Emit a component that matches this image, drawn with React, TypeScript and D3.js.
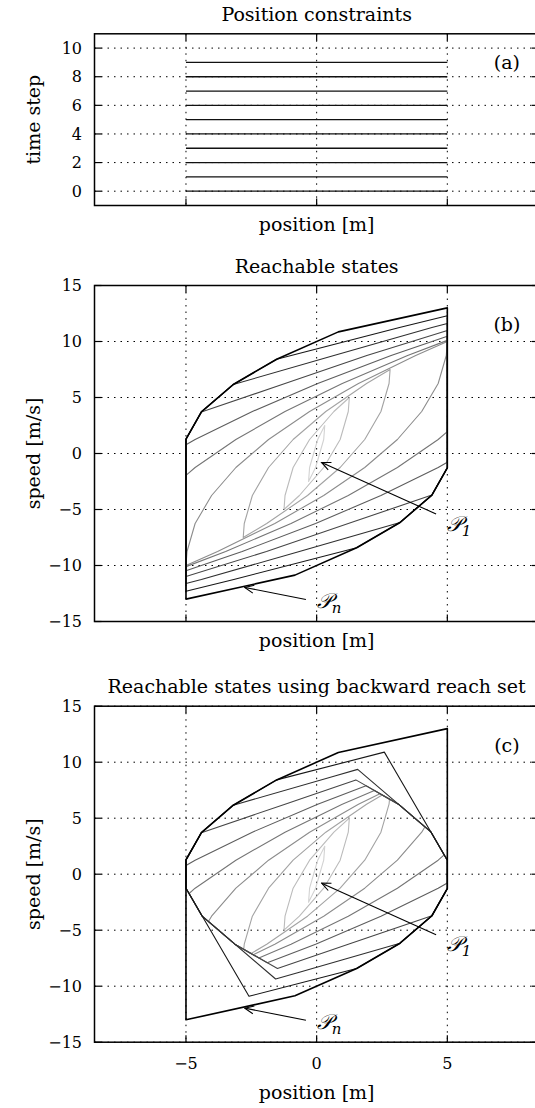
import React from 'react';
import * as d3 from 'd3';

type Pt = [number, number];

// axis ticks
const positionTicks = [-5, 0, 5];
const timeTicks = [0, 2, 4, 6, 8, 10];
const speedTicks = [-15, -10, -5, 0, 5, 10, 15];

// (a) position constraint for every time step
const timeSteps = [0, 1, 2, 3, 4, 5, 6, 7, 8, 9];
const positionBounds: Pt = [-5, 5];

// reachable sets (position, speed), shared by (b) and (c) where nothing is cut off
const reach1: Pt[] = [[0.31, 2.5], [0.27, 1.25], [-0.04, -1.25], [-0.31, -2.5], [-0.27, -1.25], [0.04, 1.25]];
const reach2: Pt[] = [[1.25, 5], [1.21, 3.75], [0.9, 1.25], [0.27, -1.25], [-0.66, -3.75], [-1.25, -5], [-1.21, -3.75], [-0.9, -1.25], [-0.27, 1.25], [0.66, 3.75]];
const reach3: Pt[] = [[2.81, 7.5], [2.77, 6.25], [2.46, 3.75], [1.84, 1.25], [0.9, -1.25], [-0.35, -3.75], [-1.91, -6.25], [-2.81, -7.5], [-2.77, -6.25], [-2.46, -3.75], [-1.84, -1.25], [-0.9, 1.25], [0.35, 3.75], [1.91, 6.25]];
const reach4: Pt[] = [[5, 10], [4.96, 8.75], [4.65, 6.25], [4.02, 3.75], [3.09, 1.25], [1.84, -1.25], [0.27, -3.75], [-1.6, -6.25], [-3.79, -8.75], [-5, -10], [-4.96, -8.75], [-4.65, -6.25], [-4.02, -3.75], [-3.09, -1.25], [-1.84, 1.25], [-0.27, 3.75], [1.6, 6.25], [3.79, 8.75]];
const reach5: Pt[] = [[5, 10.1], [5, 1.95], [4.65, 1.25], [3.09, -1.25], [1.21, -3.75], [-0.98, -6.25], [-3.48, -8.75], [-5, -10.1], [-5, -1.95], [-4.65, -1.25], [-3.09, 1.25], [-1.21, 3.75], [0.98, 6.25], [3.48, 8.75]];
const reach6: Pt[] = [[5, 10.47], [5, -0.78], [4.65, -1.25], [2.46, -3.75], [-0.04, -6.25], [-2.85, -8.75], [-5, -10.47], [-5, 0.78], [-4.65, 1.25], [-2.46, 3.75], [0.04, 6.25], [2.85, 8.75]];
const reach7: Pt[] = [[5, 10.99], [5, -1.28], [4.41, -3.71], [1.21, -6.25], [-1.92, -8.75], [-5, -10.99], [-5, 1.28], [-4.41, 3.71], [-1.21, 6.25], [1.92, 8.75]];
const reach8: Pt[] = [[5, 11.61], [5, -1.28], [4.41, -3.71], [3.19, -6.16], [-0.66, -8.75], [-4.41, -11.25], [-5, -11.61], [-5, 1.28], [-4.41, 3.71], [-3.19, 6.16], [0.66, 8.75], [4.41, 11.25]];
const reach9: Pt[] = [[5, 12.3], [5, -1.28], [4.41, -3.71], [3.19, -6.16], [1.53, -8.42], [-3.17, -11.25], [-5, -12.3], [-5, 1.28], [-4.41, 3.71], [-3.19, 6.16], [-1.53, 8.42], [3.17, 11.25]];
const reach10: Pt[] = [[5, 13], [5, -1.28], [4.41, -3.71], [3.19, -6.16], [1.53, -8.42], [-0.83, -10.86], [-5, -13], [-5, 1.28], [-4.41, 3.71], [-3.19, 6.16], [-1.53, 8.42], [0.83, 10.86]];

// (c) the same sets cut by the backward reach set
const cut3: Pt[] = [[2.51, 7.08], [2.79, 6.7], [2.77, 6.25], [2.46, 3.75], [1.84, 1.25], [0.9, -1.25], [-0.35, -3.75], [-1.91, -6.25], [-2.51, -7.08], [-2.79, -6.7], [-2.77, -6.25], [-2.46, -3.75], [-1.84, -1.25], [-0.9, 1.25], [0.35, 3.75], [1.91, 6.25]];
const cut4: Pt[] = [[2.42, 7.19], [3.13, 6.25], [4.14, 4.22], [4.02, 3.75], [3.09, 1.25], [1.84, -1.25], [0.27, -3.75], [-1.6, -6.25], [-2.42, -7.19], [-3.13, -6.25], [-4.14, -4.22], [-4.02, -3.75], [-3.09, -1.25], [-1.84, 1.25], [-0.27, 3.75], [1.6, 6.25]];
const cut5: Pt[] = [[2.21, 7.48], [3.13, 6.25], [4.38, 3.75], [4.88, 1.72], [4.65, 1.25], [3.09, -1.25], [1.21, -3.75], [-0.98, -6.25], [-2.21, -7.48], [-3.13, -6.25], [-4.38, -3.75], [-4.88, -1.72], [-4.65, -1.25], [-3.09, 1.25], [-1.21, 3.75], [0.98, 6.25]];
const cut6: Pt[] = [[1.89, 7.9], [3.13, 6.25], [4.38, 3.75], [5, 1.25], [5, -0.78], [4.65, -1.25], [2.46, -3.75], [-0.04, -6.25], [-1.89, -7.9], [-3.13, -6.25], [-4.38, -3.75], [-5, -1.25], [-5, 0.78], [-4.65, 1.25], [-2.46, 3.75], [0.04, 6.25]];
const cut7: Pt[] = [[1.5, 8.42], [3.13, 6.25], [4.38, 3.75], [5, 1.25], [5, -1.28], [4.41, -3.71], [1.21, -6.25], [-1.5, -8.42], [-3.13, -6.25], [-4.38, -3.75], [-5, -1.25], [-5, 1.28], [-4.41, 3.71], [-1.21, 6.25]];
const cut8: Pt[] = [[1.57, 9.36], [4.38, 3.75], [5, 1.25], [5, -1.28], [4.41, -3.71], [3.19, -6.16], [-0.66, -8.75], [-1.57, -9.36], [-4.38, -3.75], [-5, -1.25], [-5, 1.28], [-4.41, 3.71], [-3.19, 6.16], [0.66, 8.75]];
const cut9: Pt[] = [[2.59, 10.9], [5, 1.25], [5, -1.28], [4.41, -3.71], [3.19, -6.16], [1.53, -8.42], [-2.59, -10.9], [-5, -1.25], [-5, 1.28], [-4.41, 3.71], [-3.19, 6.16], [-1.53, 8.42]];

const forwardSets = [reach1, reach2, reach3, reach4, reach5, reach6, reach7, reach8, reach9, reach10];
const backwardSets = [reach1, reach2, cut3, cut4, cut5, cut6, cut7, cut8, cut9, reach10];

// annotations (data coordinates)
const arrowP1 = { tail: [4.57, -5.4] as Pt, tip: [0.19, -0.8] as Pt, label: [4.98, -6.9] as Pt, sub: '1' };
const arrowPn = { tail: [-0.41, -13.04] as Pt, tip: [-2.75, -11.96] as Pt, label: [0.0, -13.8] as Pt, sub: 'n' };

const W = 535;
const H = 1108;
const FONT = "'DejaVu Serif', serif";

// x is shared by the three panels
const x = d3.scaleLinear().domain([-8.5, 8.5]).range([94.5, 538.8]);
const shade = d3.scaleLinear<string>().domain([0, 9]).range(['#d2d2d2', '#000000']);
const fmt = d3.format('d');

function Panel(props: any) {
  const { top, bottom, yDomain, yTicks, title, yLabel, tag, tagY, xTickLabels, xLabelY, draw } = props;
  const y = d3.scaleLinear().domain(yDomain).range([bottom, top]);
  const [x0, x1] = x.range();
  const tl = 7;
  return (
    <g>
      <text x={x(0)} y={top - 13} textAnchor="middle" fontSize={19}>{title}</text>
      {/* grid */}
      {positionTicks.map(t => (
        <line key={'gx' + t} x1={x(t)} x2={x(t)} y1={top} y2={bottom} stroke="#000" strokeWidth={1} strokeDasharray="1.5 5" />
      ))}
      {yTicks.map((t: number) => (
        <line key={'gy' + t} x1={x0} x2={x1} y1={y(t)} y2={y(t)} stroke="#000" strokeWidth={1} strokeDasharray="1.5 5" />
      ))}
      {draw(y)}
      {/* tick marks */}
      {positionTicks.map(t => (
        <g key={'tx' + t}>
          <line x1={x(t)} x2={x(t)} y1={bottom} y2={bottom - tl} stroke="#000" strokeWidth={1.2} />
          <line x1={x(t)} x2={x(t)} y1={top} y2={top + tl} stroke="#000" strokeWidth={1.2} />
        </g>
      ))}
      {yTicks.map((t: number) => (
        <g key={'ty' + t}>
          <line x1={x0} x2={x0 + tl} y1={y(t)} y2={y(t)} stroke="#000" strokeWidth={1.2} />
          <line x1={x1} x2={x1 - tl} y1={y(t)} y2={y(t)} stroke="#000" strokeWidth={1.2} />
          <text x={82} y={y(t)} dy="0.36em" textAnchor="end" fontSize={16}>{fmt(t)}</text>
        </g>
      ))}
      <rect x={x0} y={top} width={x1 - x0} height={bottom - top} fill="none" stroke="#000" strokeWidth={1.5} />
      {xTickLabels && positionTicks.map(t => (
        <text key={'lx' + t} x={x(t)} y={bottom + 27} textAnchor="middle" fontSize={16}>{fmt(t)}</text>
      ))}
      <text x={x(0)} y={xLabelY} textAnchor="middle" fontSize={19}>position [m]</text>
      <text transform={`translate(40,${(top + bottom) / 2}) rotate(-90)`} textAnchor="middle" fontSize={19}>{yLabel}</text>
      <text x={x(7.28)} y={y(tagY)} textAnchor="middle" fontSize={19}>{tag}</text>
    </g>
  );
}

function Pointer({ y, a }: any) {
  return (
    <g>
      <line x1={x(a.tail[0])} y1={y(a.tail[1])} x2={x(a.tip[0])} y2={y(a.tip[1])} stroke="#000" strokeWidth={1.1} markerEnd="url(#openArrow)" />
      <text x={x(a.label[0])} y={y(a.label[1])} fontSize={21} fontStyle="italic">
        𝒫<tspan fontSize={15} dy={5}>{a.sub}</tspan>
      </text>
    </g>
  );
}

function Sets({ y, sets }: any) {
  const path = d3.line<Pt>().x(d => x(d[0])).y(d => y(d[1])).curve(d3.curveLinearClosed);
  return (
    <g>
      {sets.map((s: Pt[], i: number) => (
        <path key={i} d={path(s) || ''} fill="none" stroke={shade(i)} strokeWidth={i === sets.length - 1 ? 1.6 : 1.1} strokeLinejoin="round" />
      ))}
    </g>
  );
}

export default function App() {
  return (
    <svg width={W} height={H} style={{ position: 'absolute', left: 0, top: 0, background: '#fff' }} fontFamily={FONT}>
      <defs>
        <marker id="openArrow" viewBox="-11 -6 12 12" refX={0} refY={0} markerWidth={12} markerHeight={12} markerUnits="userSpaceOnUse" orient="auto">
          <path d="M-9,-4 L0,0 L-9,4" fill="none" stroke="#000" strokeWidth={1.1} />
        </marker>
      </defs>
      <Panel top={33.8} bottom={205.5} yDomain={[-1, 11]} yTicks={timeTicks} title="Position constraints" yLabel="time step"
        tag="(a)" tagY={8.55} xTickLabels={false} xLabelY={231}
        draw={(y: any) => (
          <g>
            {timeSteps.map(t => (
              <line key={t} x1={x(positionBounds[0])} x2={x(positionBounds[1])} y1={y(t)} y2={y(t)} stroke="#111" strokeWidth={1.3} />
            ))}
          </g>
        )} />
      <Panel top={285.5} bottom={621.5} yDomain={[-15, 15]} yTicks={speedTicks} title="Reachable states" yLabel="speed [m/s]"
        tag="(b)" tagY={10.9} xTickLabels={false} xLabelY={647}
        draw={(y: any) => (
          <g>
            <Sets y={y} sets={forwardSets} />
            <Pointer y={y} a={arrowP1} />
            <Pointer y={y} a={arrowPn} />
          </g>
        )} />
      <Panel top={706.2} bottom={1042.2} yDomain={[-15, 15]} yTicks={speedTicks} title="Reachable states using backward reach set" yLabel="speed [m/s]"
        tag="(c)" tagY={10.9} xTickLabels={true} xLabelY={1099}
        draw={(y: any) => (
          <g>
            <Sets y={y} sets={backwardSets} />
            <Pointer y={y} a={arrowP1} />
            <Pointer y={y} a={arrowPn} />
          </g>
        )} />
    </svg>
  );
}
